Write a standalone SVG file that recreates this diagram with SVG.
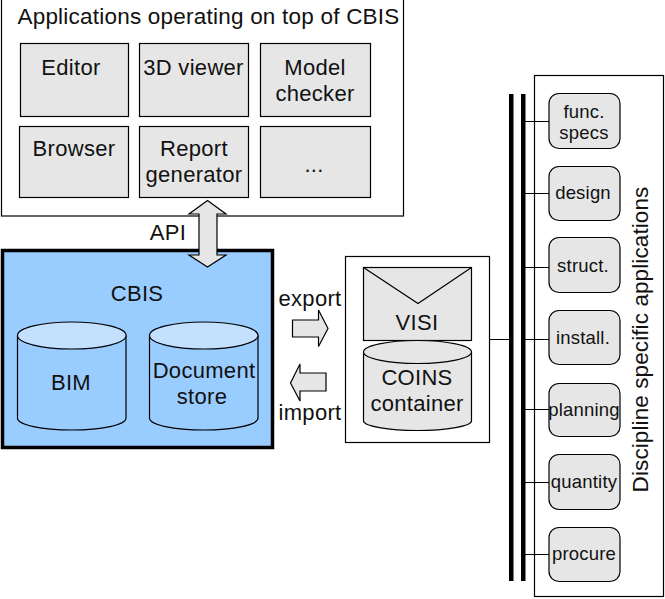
<svg xmlns="http://www.w3.org/2000/svg" width="665" height="599" viewBox="0 0 665 599">
<style>
text{font-family:"Liberation Sans",Arial,sans-serif;font-size:22px;fill:#111;text-anchor:middle;letter-spacing:.3px}
.s{font-size:18.5px;letter-spacing:.2px}
.b{fill:#fff;stroke:#000;stroke-width:1.2}
.g{fill:#e6e6e6;stroke:#000;stroke-width:1.2}
.c{fill:#99ccff;stroke:#000;stroke-width:1.2}
.t{fill:#c4e0ff;stroke:#000;stroke-width:1.2}
.l{fill:none;stroke:#000;stroke-width:1.2}
.r{fill:#e6e6e6;stroke:#000;stroke-width:1.2}
</style>
<rect width="665" height="599" fill="#fff"/>
<g id="apps">
<rect class="b" x="1.5" y="-2" width="402" height="218"/>
<text x="208.500" y="24" style="font-size:22.500px;letter-spacing:.22px">Applications operating on top of CBIS</text>
</g>
<g id="editor"><rect class="g" x="20.500" y="43.500" width="108" height="73"/><text x="71" y="75">Editor</text></g>
<g id="viewer3d"><rect class="g" x="139.500" y="43.500" width="109" height="73"/><text x="193.500" y="75">3D viewer</text></g>
<g id="checker"><rect class="g" x="260.500" y="43.500" width="110" height="73"/><text x="315" y="75">Model</text><text x="315" y="101">checker</text></g>
<g id="browser"><rect class="g" x="19.500" y="126.500" width="109" height="71"/><text x="74" y="156">Browser</text></g>
<g id="report"><rect class="g" x="139.500" y="126.500" width="109" height="71"/><text x="194" y="156">Report</text><text x="194" y="182">generator</text></g>
<g id="more"><rect class="g" x="260.500" y="126.500" width="110" height="71"/><text x="314" y="172">...</text></g>
<g id="cbis">
<rect x="2.500" y="250.500" width="270" height="197" fill="#99ccff" stroke="#000" stroke-width="3.500"/>
<text x="137" y="301">CBIS</text>
</g>
<g id="bim">
<path class="c" d="M17.500 335.500V418C17.500 425 42 430 71.800 430S126 425 126 418V335.500"/>
<ellipse class="t" cx="71.800" cy="335.500" rx="54.300" ry="13.500"/>
<text x="71" y="390">BIM</text>
</g>
<g id="docstore">
<path class="c" d="M149.500 335.500V418C149.500 425 174 430 203.800 430S258 425 258 418V335.500"/>
<ellipse class="t" cx="203.800" cy="335.500" rx="54.300" ry="13.500"/>
<text x="204" y="378">Document</text><text x="202" y="404">store</text>
</g>
<g id="api">
<path class="g" d="M207.500 200.500L226 214H217V255H226L207.500 267L189 255H199V214H189Z"/>
<text x="168" y="240">API</text>
</g>
<g id="export">
<text x="310" y="306">export</text>
<path class="g" d="M292.500 320H318.500V310L328 328.500L318.500 346.500V337H292.500Z"/>
</g>
<g id="import">
<path class="g" d="M326 373H300V364L290.500 383L300 401V391H326Z"/>
<text x="310" y="420">import</text>
</g>
<g id="exchange">
<rect class="b" x="345.500" y="256.500" width="144" height="186"/>
</g>
<g id="visi">
<rect class="g" x="363.500" y="267.500" width="108" height="73"/>
<path class="l" d="M363.500 267.500L418 303.500L471.500 267.500"/>
<text x="417" y="330">VISI</text>
</g>
<g id="coins">
<path class="r" d="M363.500 352V421C363.500 426 388 430.500 417.500 430.500S471.500 426 471.500 421V352"/>
<ellipse class="g" cx="417.500" cy="352" rx="54" ry="11.500"/>
<text x="417" y="385">COINS</text><text x="417" y="411">container</text>
</g>
<g id="discipline">
<rect class="b" x="534.500" y="75.500" width="129" height="521"/>
<text transform="translate(648 339.500) rotate(-90)" style="font-size:22.500px;letter-spacing:.1px">Discipline specific applications</text>
</g>
<g id="connectors">
<rect x="509" y="94" width="4.500" height="487" fill="#000"/>
<rect x="521" y="94" width="4.500" height="487" fill="#000"/>
<path class="l" d="M489.500 339.500H510M525 121.500H549M525 193.500H549M525 267.500H549M525 339.500H549M525 409.500H549M525 482.500H549M525 554.500H549"/>
</g>
<g id="func"><rect class="r" x="549" y="93.500" width="71" height="55" rx="10"/><text class="s" x="584" y="118">func.</text><text class="s" x="584" y="139">specs</text></g>
<g id="design"><rect class="r" x="549" y="166.500" width="71" height="54" rx="10"/><text class="s" x="583" y="199">design</text></g>
<g id="struct"><rect class="r" x="549" y="237.500" width="71" height="55" rx="10"/><text class="s" x="583" y="272">struct.</text></g>
<g id="install"><rect class="r" x="549" y="310.500" width="71" height="54" rx="10"/><text class="s" x="583" y="344">install.</text></g>
<g id="planning"><rect class="r" x="549" y="383.500" width="71" height="53" rx="10"/><text class="s" x="584" y="416">planning</text></g>
<g id="quantity"><rect class="r" x="549" y="454.500" width="71" height="55" rx="10"/><text class="s" x="584" y="488">quantity</text></g>
<g id="procure"><rect class="r" x="549" y="527.500" width="71" height="54" rx="10"/><text class="s" x="584" y="560">procure</text></g>
</svg>
